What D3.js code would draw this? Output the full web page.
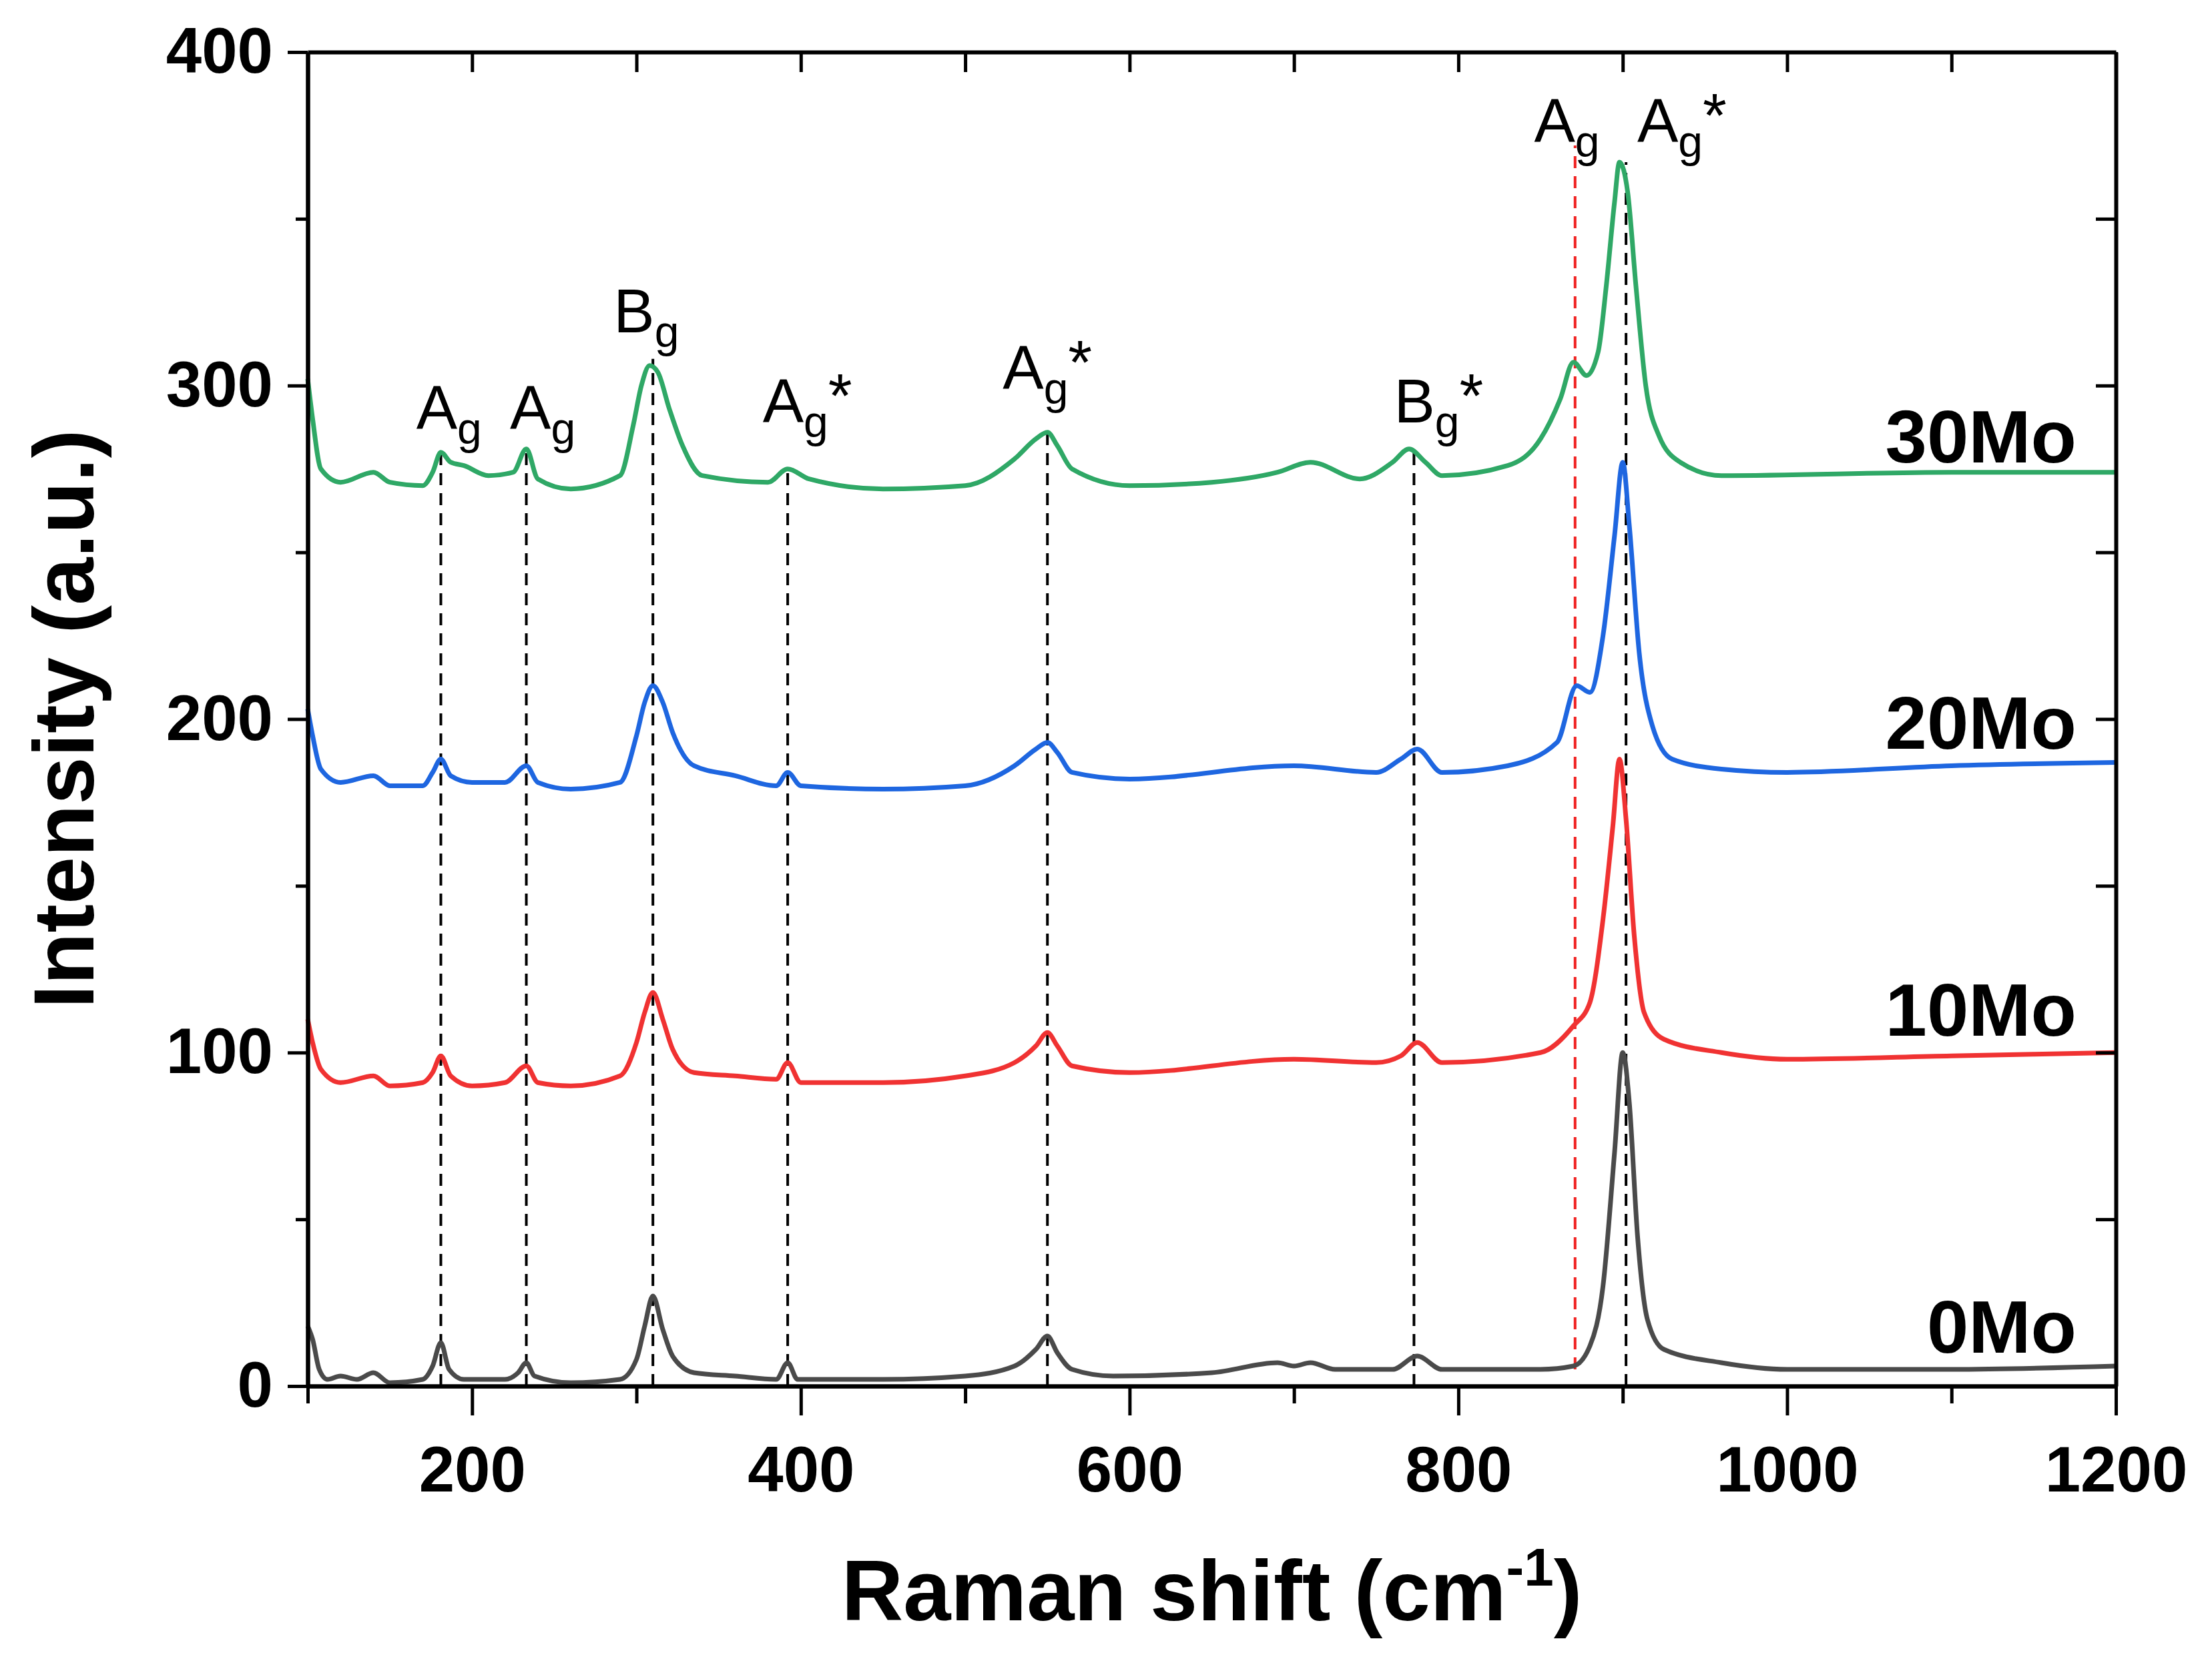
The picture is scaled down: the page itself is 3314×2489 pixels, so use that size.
<!DOCTYPE html>
<html>
<head>
<meta charset="utf-8">
<script src="https://cdn.jsdelivr.net/npm/d3@7"></script>
<style>
  body { margin: 0; background: #fff; }
  text { font-family: "Liberation Sans", Arial, sans-serif; }
</style>
</head>
<body>
<div id="chart"></div>
<script>
// Data: [Raman shift, intensity]
var mo0 = [[100,18],[103,14],[107,5],[112,2],[120,3],[130,2],[140,4],[150,1],[170,2],[176,6],[181,13],[186,5],[195,2],[220,2],[228,4],[233,7],[238,3],[260,1],[290,2],[300,8],[305,18],[310,27],[316,17],[322,9],[335,4],[360,3],[385,2],[392,7],[398,2],[450,2],[500,3],[530,6],[543,11],[550,15],[556,10],[565,5],[590,3],[650,4],[690,7],[700,6],[710,7],[725,5],[760,5],[775,9],[790,5],[850,5],[870,6],[880,12],[888,30],[895,70],[900,100],[904,85],[909,45],[915,20],[925,11],[960,7],[1000,5],[1100,5],[1200,6]];
var mo10 = [[100,110],[103,103],[108,95],[120,91],[140,93],[150,90],[170,91],[176,94],[181,99],[187,93],[200,90],[220,91],[233,96],[240,91],[260,90],[290,93],[300,103],[305,112],[310,118],[316,110],[322,101],[335,94],[360,93],[385,92],[392,97],[400,91],[450,91],[500,93],[530,97],[543,102],[550,106],[556,102],[565,96],[600,94],[700,98],[750,97],[765,99],[775,103],[790,97],[850,100],[870,108],[880,115],[888,140],[894,168],[898,188],[902,170],[907,135],[913,112],[925,104],[960,100],[1000,98],[1100,99],[1200,100]];
var mo20 = [[100,203],[103,195],[108,185],[120,181],[140,183],[150,180],[170,180],[176,184],[181,188],[187,183],[200,181],[220,181],[233,186],[240,181],[260,179],[290,181],[300,195],[305,205],[310,210],[316,205],[322,196],[335,186],[360,183],[385,180],[392,184],[400,180],[450,179],[500,180],[530,186],[543,191],[550,193],[556,190],[565,184],[600,182],[700,186],[750,184],[765,188],[775,191],[790,184],[830,186],[860,193],[872,210],[880,208],[888,225],[895,255],[900,277],[904,258],[910,220],[918,198],[930,188],[960,185],[1000,184],[1100,186],[1200,187]];
var mo30 = [[100,302],[103,290],[108,275],[120,271],[140,274],[150,271],[170,270],[176,274],[181,280],[187,277],[195,276],[210,273],[225,274],[233,281],[240,272],[260,269],[290,273],[298,288],[303,300],[308,306],[313,304],[320,293],[328,282],[340,273],[380,271],[392,275],[405,272],[450,269],[500,270],[530,278],[543,284],[550,286],[556,282],[565,275],[600,270],[650,271],[690,274],[710,277],[740,272],[760,277],[770,281],[780,277],[790,273],[830,276],[850,284],[862,296],[870,307],[878,303],[885,310],[890,330],[895,355],[898,367],[903,358],[908,330],[914,300],[922,285],[935,277],[960,273],[1100,274],[1200,274]];

var seriesNames = ["0Mo", "10Mo", "20Mo", "30Mo"];
var seriesColors = ["#4a4a4a", "#f03232", "#1e66e0", "#2fa866"];
var seriesLabelY = [10, 105, 191, 277];

// dashed reference lines: [x, bottom, top]
var blackDash = [[181,0,281],[233,0,281],[310,0,308],[392,0,275],[550,0,286],[773,0,281],[902,0,367]];
var redDash = [[871,5,372]];

// peak annotations: [x, y, main, sub, star]
var peakLabels = [[186,287,"A","g",""],[243,287,"A","g",""],[306,316,"B","g",""],[404,289,"A","g","*"],[550,299,"A","g","*"],[788,289,"B","g","*"],[866,373,"A","g",""],[936,373,"A","g","*"]];

var xTicks = [200, 400, 600, 800, 1000, 1200];
var yTicks = [0, 100, 200, 300, 400];

var svgWidth = 3314, svgHeight = 2489;
var margin = {top: 78, right: 144, bottom: 412, left: 461};
var width = svgWidth - margin.left - margin.right;
var height = svgHeight - margin.top - margin.bottom;

var svg = d3.select("#chart").append("svg")
  .attr("width", svgWidth).attr("height", svgHeight);
var g = svg.append("g").attr("transform", `translate(${margin.left},${margin.top})`);

var x = d3.scaleLinear().domain([100, 1200]).range([0, width]);
var y = d3.scaleLinear().domain([0, 400]).range([height, 0]);

// dashed lines
g.selectAll(".bd").data(blackDash).enter().append("line")
  .attr("x1", d => x(d[0])).attr("x2", d => x(d[0]))
  .attr("y1", d => y(d[1])).attr("y2", d => y(d[2]))
  .attr("stroke", "#000").attr("stroke-width", 4).attr("stroke-dasharray", "18,12");
g.selectAll(".rd").data(redDash).enter().append("line")
  .attr("x1", d => x(d[0])).attr("x2", d => x(d[0]))
  .attr("y1", d => y(d[1])).attr("y2", d => y(d[2]))
  .attr("stroke", "#f02020").attr("stroke-width", 4).attr("stroke-dasharray", "18,12");

// spectra
var line = d3.line().x(d => x(d[0])).y(d => y(d[1])).curve(d3.curveMonotoneX);
[mo0, mo10, mo20, mo30].forEach(function(s, i) {
  g.append("path").datum(s).attr("d", line)
    .attr("fill", "none").attr("stroke", seriesColors[i]).attr("stroke-width", 7)
    .attr("stroke-linejoin", "round");
});

// series labels
g.selectAll(".sl").data(seriesNames).enter().append("text")
  .attr("x", x(1176)).attr("y", (d, i) => y(seriesLabelY[i]))
  .attr("text-anchor", "end").attr("font-size", 112).attr("font-weight", "bold")
  .text(d => d);

// peak labels
var pl = g.selectAll(".pl").data(peakLabels).enter().append("text")
  .attr("x", d => x(d[0])).attr("y", d => y(d[1]))
  .attr("text-anchor", "middle").attr("font-size", 92);
pl.append("tspan").text(d => d[2]);
pl.append("tspan").attr("font-size", 66).attr("dy", 22).text(d => d[3]);
pl.append("tspan").attr("dy", -30).text(d => d[4]);

// axes
var axisStyle = function(sel) {
  sel.selectAll("path").attr("stroke-width", 6);
  sel.selectAll("line").attr("stroke-width", 5);
  sel.selectAll("text").attr("font-size", 96).attr("font-weight", "bold");
};
var minorX = d3.range(100, 1201, 100).filter(v => v % 200 !== 0);
var minorY = d3.range(50, 400, 100);

g.append("g").attr("transform", `translate(0,${height})`)
  .call(d3.axisBottom(x).tickValues(xTicks).tickFormat(d3.format("d")).tickSize(44).tickSizeOuter(0).tickPadding(46))
  .call(axisStyle);
g.append("g").attr("transform", `translate(0,${height})`)
  .call(d3.axisBottom(x).tickValues(minorX).tickSize(26).tickFormat("").tickSizeOuter(0))
  .call(axisStyle);
g.append("g")
  .call(d3.axisLeft(y).tickValues(yTicks).tickSize(30).tickSizeOuter(0).tickPadding(22))
  .call(axisStyle);
g.append("g")
  .call(d3.axisLeft(y).tickValues(minorY).tickSize(18).tickFormat("").tickSizeOuter(0))
  .call(axisStyle);
g.append("g")
  .call(d3.axisTop(x).tickValues(d3.range(200, 1201, 100)).tickSize(-30).tickFormat("").tickSizeOuter(0))
  .call(axisStyle);
g.append("g").attr("transform", `translate(${width},0)`)
  .call(d3.axisRight(y).tickValues(d3.range(50, 400, 50)).tickSize(-30).tickFormat("").tickSizeOuter(0))
  .call(axisStyle);

// axis titles
var xt = svg.append("text")
  .attr("x", margin.left + width / 2).attr("y", 2428)
  .attr("text-anchor", "middle").attr("font-size", 128).attr("font-weight", "bold");
xt.append("tspan").text("Raman shift (cm");
xt.append("tspan").attr("font-size", 80).attr("dy", -52).text("-1");
xt.append("tspan").attr("dy", 52).text(")");

svg.append("text")
  .attr("transform", `translate(140,${margin.top + height / 2}) rotate(-90)`)
  .attr("text-anchor", "middle").attr("font-size", 128).attr("font-weight", "bold")
  .text("Intensity (a.u.)");
</script>
</body>
</html>
